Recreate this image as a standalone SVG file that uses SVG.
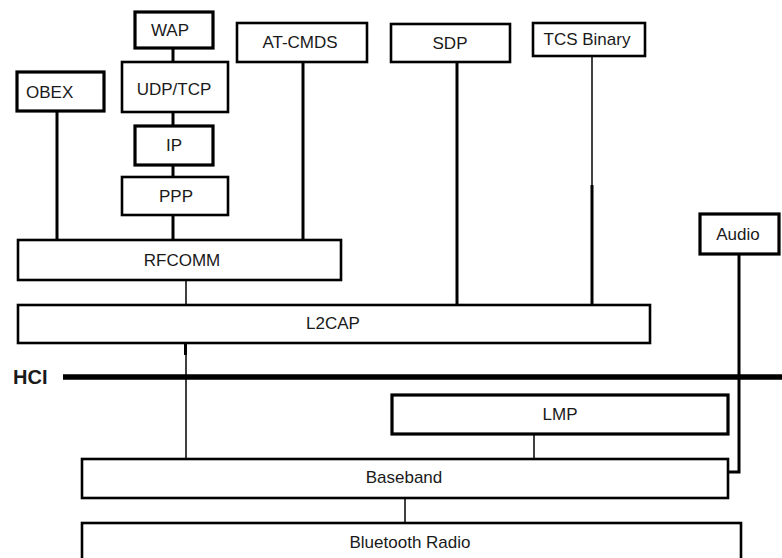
<svg xmlns="http://www.w3.org/2000/svg" width="782" height="558" viewBox="0 0 782 558">
<style>
.box{fill:#fff;stroke:#000;stroke-width:2.6}
.bx{fill:#fff;stroke:#000;stroke-width:3.2}
.t{font-family:"Liberation Sans",Arial,sans-serif;font-size:17px;fill:#1a1a1a;text-anchor:middle}
.thick{stroke:#000;stroke-width:3;fill:none}
.thin{stroke:#000;stroke-width:1.5;fill:none}
</style>
<rect width="782" height="558" fill="#fff"/>
<g id="connectors">
<line class="thick" x1="173" y1="48" x2="173" y2="62"/>
<line class="thick" x1="173" y1="112" x2="173" y2="126"/>
<line class="thick" x1="173" y1="165" x2="173" y2="177"/>
<line class="thick" x1="173" y1="215" x2="173" y2="240"/>
<line class="thick" x1="57" y1="111" x2="57" y2="240"/>
<line class="thick" x1="303" y1="62" x2="303" y2="240"/>
<line class="thin" x1="186" y1="280" x2="186" y2="305"/>
<line class="thick" x1="457" y1="62" x2="457" y2="305"/>
<line class="thin" x1="592" y1="56" x2="592" y2="186"/>
<line class="thick" x1="592" y1="185" x2="592" y2="305"/>
<line class="thin" x1="186" y1="343" x2="186" y2="459"/>
<line class="thick" x1="185.5" y1="343" x2="185.5" y2="355"/>
<polyline class="thick" points="739,254 739,472 728,472"/>
<line class="thin" x1="534" y1="434" x2="534" y2="459"/>
<line class="thin" x1="405" y1="498" x2="405" y2="523"/>
</g>
<g id="hci">
<line x1="63" y1="377" x2="782" y2="377" stroke="#000" stroke-width="5.5"/>
<text x="13" y="384" font-family="'Liberation Sans',Arial,sans-serif" font-size="20" font-weight="bold" fill="#1a1a1a">HCI</text>
</g>
<g id="wap"><rect class="bx" x="135" y="12" width="78" height="36"/><text class="t" x="170" y="36">WAP</text></g>
<g id="udptcp"><rect class="box" x="122" y="62" width="106" height="50"/><text class="t" x="174" y="95">UDP/TCP</text></g>
<g id="ip"><rect class="bx" x="135" y="126" width="78" height="39"/><text class="t" x="174" y="151">IP</text></g>
<g id="ppp"><rect class="box" x="122" y="177" width="106" height="38"/><text class="t" x="176" y="202">PPP</text></g>
<g id="obex"><rect class="bx" x="17" y="72" width="87" height="39"/><text class="t" x="26" y="98" text-anchor="start" style="text-anchor:start">OBEX</text></g>
<g id="atcmds"><rect class="box" x="237" y="23" width="130" height="39"/><text class="t" x="300" y="48">AT-CMDS</text></g>
<g id="sdp"><rect class="box" x="391" y="24" width="119" height="38"/><text class="t" x="450" y="49">SDP</text></g>
<g id="tcs"><rect class="box" x="533" y="23" width="112" height="33"/><text class="t" x="587" y="45">TCS Binary</text></g>
<g id="audio"><rect class="bx" x="700" y="214" width="79" height="40"/><text class="t" x="738" y="240">Audio</text></g>
<g id="rfcomm"><rect class="box" x="18" y="240" width="323" height="40"/><text class="t" x="182" y="266">RFCOMM</text></g>
<g id="l2cap"><rect class="box" x="18" y="305" width="632" height="38"/><text class="t" x="333" y="329">L2CAP</text></g>
<g id="lmp"><rect class="bx" x="392" y="395" width="336" height="39"/><text class="t" x="560" y="420">LMP</text></g>
<g id="baseband"><rect class="box" x="82" y="459" width="646" height="39"/><text class="t" x="404" y="483">Baseband</text></g>
<g id="radio"><rect class="box" x="82" y="523" width="659" height="50"/><text class="t" x="410" y="548">Bluetooth Radio</text></g>
</svg>
